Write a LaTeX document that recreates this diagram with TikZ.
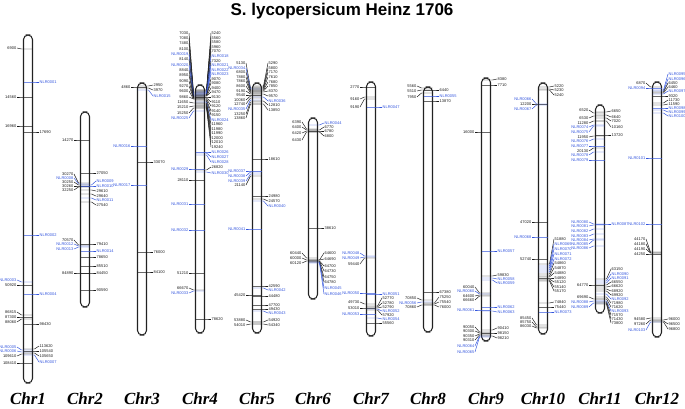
\documentclass[tikz,border=0pt]{standalone}
\usepackage{fontspec}
\setmainfont{Liberation Serif}
\setsansfont{Liberation Sans}
\definecolor{ink}{HTML}{1A1A1A}
\definecolor{nlr}{HTML}{3355DD}
\definecolor{chrline}{HTML}{222222}
\tikzset{
  chrom/.style    ={draw=chrline,line width=0.9pt,fill=white,rounded corners=1.35mm,
                    minimum width=2.7mm,inner sep=0pt},
  lbl/.style      ={font=\sffamily\fontsize{3.4}{4}\selectfont,inner sep=0.4pt},
  lead/.style     ={line width=0.4pt},
  chrname/.style  ={font=\rmfamily\bfseries\itshape\fontsize{14.5}{16}\selectfont},
  headline/.style ={font=\sffamily\bfseries\fontsize{14.5}{16}\selectfont},
}
% markers of one chromosome: side/tick y/label y/text/colour
\newcommand{\markers}[3]{%
  \foreach \s/\t/\l/\txt/\col [count=\k] in {#3}{
    \ifnum\s<0 \def\anc{east}\else\def\anc{west}\fi
    \node[lbl,text=\col,anchor=\anc] (#1-\k) at ({#2+\s*11},\l) {\txt};
    \coordinate (#1-t\k) at ({#2-\s*4.5},\t);
    \draw[lead,draw=\col] (#1-t\k) -- ({#2+\s*6.5},\t) -- (#1-\k.\anc);
  }}

\begin{document}
\begin{tikzpicture}[x=0.3mm,y=-0.3mm]
\useasboundingbox (0,0) rectangle (685,409);
\node[headline] (title) at (342,11) {S. lycopersicum Heinz 1706};

% chromosomes
\foreach \n/\x/\ya/\yb in {1/28/35/383, 2/85/112/307, 3/142/83/335, 4/200/85/333,
   5/257/83/333, 6/313/118/299, 7/371/82/336, 8/428/87/332,
   9/486/78/341, 10/543/83/334, 11/600/105/313, 12/657/82/337}
{
  \node[chrom,minimum height={(\yb-\ya)*0.3mm}] (c\n) at (\x,{(\ya+\yb)/2}) {};
  \node[chrname] (n\n) at (\x,399) {Chr\n};
}

\markers{c1}{28}{-1/49/48/6900/ink, -1/97/97/14560/ink, -1/126/126/16960/ink,
  1/82/82/NLR0001/nlr, 1/132/132/17690/ink, 1/235/235/NLR0002/nlr,
  -1/282/280/NLR0003/nlr, -1/285/285/50920/ink, 1/294/294/NLR0004/nlr,
  -1/315/312/86815/ink, -1/317/317/87300/ink, -1/319/322/88060/ink, 1/324/324/98430/ink,
  -1/350/347/NLR0005/nlr, -1/352/351/NLR0006/nlr, -1/354/356/109610/ink, -1/363/363/108410/ink,
  1/349/346/113620/ink, 1/351/351/105540/ink, 1/353/356/105650/ink, 1/355/362/NLR0007/nlr}

\markers{c2}{85}{-1/140/140/14270/ink,
  -1/183/174/30270/ink, -1/184/178/NLR0008/nlr, -1/185/182/30250/ink, -1/186/186/30260/ink,
  -1/187/190/32250/ink, 1/173/173/27050/ink, 1/185/181/NLR0009/nlr, 1/186/186/NLR0010/nlr,
  1/190/191/29610/ink, 1/194/196/29640/ink, 1/198/200/NLR0011/nlr, 1/202/205/27540/ink,
  -1/245/240/70570/ink, -1/246/244/NLR0012/nlr, -1/247/249/NLR0013/nlr,
  1/244/244/79410/ink, 1/251/251/NLR0014/nlr, 1/257/257/78650/ink, 1/266/266/85510/ink,
  1/273/273/84450/ink, -1/273/273/84890/ink, 1/290/290/90590/ink}

\markers{c3}{142}{-1/87/87/4860/ink, 1/86/85/2950/ink, 1/88/90/3970/ink, 1/90/96/NLR0015/nlr,
  -1/146/146/NLR0016/nlr, 1/162/162/33070/ink, -1/185/185/NLR0017/nlr,
  1/252/252/76000/ink, 1/272/272/84100/ink}

% chr4: the dense fan at the top
\markers{c4}{200}{-1/92/33/7030/ink, -1/93/38/7080/ink, -1/94/43/7480/ink, -1/95/49/8100/ink,
  -1/95/54/NLR0019/nlr, -1/96/59/8140/ink, -1/96/65/NLR0020/nlr, -1/97/70/8840/ink,
  -1/97/75/8950/ink, -1/98/81/9090/ink, -1/98/86/9270/ink, -1/99/91/9600/ink,
  -1/99/97/9860/ink, -1/103/102/11650/ink, -1/106/107/15210/ink, -1/108/113/15250/ink,
  -1/111/118/NLR0025/nlr,
  1/90/33/5240/ink, 1/90/38/5560/ink, 1/91/42/5580/ink, 1/91/47/5960/ink, 1/92/51/7070/ink,
  1/92/56/NLR0018/nlr, 1/93/61/7320/ink, 1/93/65/NLR0021/nlr, 1/94/70/NLR0022/nlr,
  1/94/74/NLR0023/nlr, 1/95/79/9070/ink, 1/95/83/9080/ink, 1/96/88/9400/ink, 1/96/92/9470/ink,
  1/97/97/9130/ink, 1/98/102/9110/ink, 1/99/106/9120/ink, 1/100/111/9140/ink,
  1/101/115/9150/ink, 1/102/120/NLR0024/nlr, 1/103/124/11960/ink, 1/104/129/11980/ink,
  1/105/133/11990/ink, 1/106/138/12000/ink, 1/107/142/12010/ink, 1/108/147/19240/ink,
  1/152/152/NLR0026/nlr, 1/153/157/NLR0027/nlr, 1/155/162/NLR0028/nlr,
  -1/169/169/NLR0029/nlr, 1/170/167/26820/ink, 1/172/173/NLR0030/nlr, -1/180/180/28110/ink,
  -1/204/204/NLR0031/nlr, -1/230/230/NLR0032/nlr, -1/273/273/51210/ink,
  -1/290/288/66670/ink, -1/291/293/NLR0033/nlr, 1/319/319/78620/ink}

\markers{c5}{257}{-1/88/63/5130/ink, -1/89/68/NLR0034/nlr, -1/90/72/6800/ink,
  -1/91/77/7880/ink, -1/92/81/7860/ink, -1/93/86/8600/ink, -1/94/91/9190/ink,
  -1/95/95/9540/ink, -1/96/100/10060/ink, -1/98/104/12740/ink, -1/100/109/NLR0035/nlr,
  -1/102/114/13250/ink, -1/104/118/13860/ink,
  1/86/63/5290/ink, 1/87/68/5800/ink, 1/88/72/7170/ink, 1/89/77/7610/ink, 1/90/82/7680/ink,
  1/91/86/7850/ink, 1/92/91/8370/ink, 1/94/96/9570/ink, 1/97/101/NLR0036/nlr,
  1/101/105/12810/ink, 1/104/110/13850/ink,
  1/159/159/18610/ink, -1/171/171/NLR0037/nlr, -1/172/176/NLR0038/nlr,
  -1/174/181/NLR0039/nlr, -1/176/185/21140/ink, 1/196/196/24980/ink, 1/199/201/24570/ink,
  1/201/206/NLR0040/nlr, -1/229/229/NLR0041/nlr, 1/286/286/42590/ink, 1/288/290/NLR0042/nlr,
  -1/295/295/45420/ink, 1/296/296/44480/ink, 1/305/305/47700/ink, 1/309/309/49430/ink,
  1/311/313/NLR0043/nlr, -1/322/320/53880/ink, -1/324/325/54010/ink,
  1/322/320/54920/ink, 1/324/325/54340/ink}

\markers{c6}{313}{1/125/123/NLR0044/nlr, 1/130/127/6770/ink, 1/131/131/6780/ink,
  1/132/136/6800/ink, -1/129/122/6390/ink, -1/130/127/6400/ink, -1/131/133/6420/ink,
  -1/132/140/6430/ink, 1/228/228/38610/ink,
  -1/258/253/60440/ink, -1/260/258/60000/ink, -1/261/263/60120/ink,
  1/260/253/64600/ink, 1/260/259/64690/ink, 1/261/266/64700/ink, 1/261/271/64730/ink,
  1/262/277/64750/ink, 1/262/282/64780/ink, 1/262/288/NLR0045/nlr, 1/263/294/NLR0046/nlr}

\markers{c7}{371}{-1/87/87/2770/ink, -1/97/99/9160/ink, -1/99/107/9190/ink,
  1/107/107/NLR0047/nlr, -1/256/253/NLR0048/nlr, -1/257/258/NLR0049/nlr,
  -1/258/264/59440/ink, -1/293/293/NLR0050/nlr, 1/294/294/NLR0051/nlr,
  -1/304/302/49730/ink, -1/308/308/53010/ink, 1/306/298/52770/ink, 1/307/303/52780/ink,
  1/308/307/52790/ink, 1/309/311/NLR0052/nlr, 1/310/315/57920/ink,
  -1/314/314/NLR0053/nlr, 1/318/319/NLR0054/nlr, 1/323/323/55560/ink}

\markers{c8}{428}{-1/88/86/5560/ink, -1/90/91/5510/ink, -1/93/97/7950/ink,
  1/90/90/6440/ink, 1/96/96/NLR0055/nlr, 1/101/101/13870/ink,
  -1/300/298/70850/ink, -1/302/303/NLR0056/nlr, -1/305/307/70860/ink,
  1/292/292/67380/ink, 1/303/297/75250/ink, 1/304/302/75540/ink, 1/305/307/76000/ink}

\markers{c9}{486}{1/80/79/8380/ink, 1/85/85/7710/ink, -1/132/132/16000/ink,
  1/251/251/NLR0057/nlr, 1/276/275/59830/ink, 1/278/279/NLR0058/nlr, 1/280/283/NLR0059/nlr,
  -1/293/287/60040/ink, -1/294/291/NLR0060/nlr, -1/295/296/64600/ink, -1/296/300/66660/ink,
  -1/310/310/NLR0061/nlr, 1/307/307/NLR0062/nlr, 1/311/312/NLR0063/nlr,
  -1/332/327/90050/ink, -1/333/331/90300/ink, -1/334/336/90350/ink, -1/335/340/90310/ink,
  -1/336/346/NLR0064/nlr, -1/337/352/NLR0065/nlr,
  1/330/328/90410/ink, 1/333/333/98150/ink, 1/336/338/98210/ink}

\markers{c10}{543}{1/87/86/5220/ink, 1/89/90/5230/ink, 1/90/95/5240/ink,
  -1/104/99/NLR0066/nlr, -1/104/104/12200/ink, -1/105/109/NLR0067/nlr,
  -1/222/222/47020/ink, -1/237/237/NLR0068/nlr, -1/259/259/52740/ink,
  1/264/239/51880/ink, 1/266/244/NLR0069/nlr, 1/268/249/NLR0070/nlr, 1/270/254/NLR0071/nlr,
  1/272/259/NLR0072/nlr, 1/274/263/54860/ink, 1/276/268/54870/ink, 1/277/273/54880/ink,
  1/278/278/54890/ink, 1/279/282/55120/ink, 1/280/287/55140/ink, 1/281/291/55170/ink,
  1/303/302/74840/ink, 1/307/307/75440/ink, 1/312/312/NLR0073/nlr,
  -1/325/318/85450/ink, -1/327/322/85750/ink, -1/328/326/86030/ink}

\markers{c11}{600}{-1/113/110/6520/ink, -1/116/118/6530/ink, -1/121/123/11280/ink,
  -1/125/127/NLR0074/nlr, -1/126/132/NLR0075/nlr, -1/136/137/11950/ink,
  -1/139/141/NLR0076/nlr, -1/146/146/NLR0077/nlr, -1/148/151/20130/ink,
  -1/152/155/NLR0078/nlr, -1/160/160/NLR0079/nlr,
  1/112/111/6650/ink, 1/115/117/6640/ink, 1/118/121/7020/ink, 1/121/127/10160/ink,
  1/135/135/13720/ink,
  -1/224/222/NLR0080/nlr, -1/225/226/NLR0081/nlr, -1/229/231/NLR0082/nlr,
  -1/234/236/NLR0083/nlr, -1/239/240/NLR0084/nlr, -1/240/244/NLR0085/nlr,
  -1/246/248/NLR0086/nlr, 1/224/224/NLR0087/nlr,
  -1/285/285/64770/ink, -1/299/297/69690/ink, -1/301/302/NLR0088/nlr, -1/303/307/NLR0089/nlr,
  1/279/269/63150/ink, 1/281/274/NLR0090/nlr, 1/283/278/NLR0091/nlr, 1/285/282/66550/ink,
  1/287/286/66620/ink, 1/289/291/68920/ink, 1/291/295/69920/ink, 1/294/299/NLR0092/nlr,
  1/297/303/71980/ink, 1/299/307/71620/ink, 1/301/311/NLR0093/nlr, 1/302/315/71570/ink,
  1/303/319/71430/ink, 1/304/323/73800/ink}

\markers{c12}{657}{-1/87/83/6870/ink, -1/88/88/NLR0094/nlr,
  1/90/74/NLR0095/nlr, 1/91/79/NLR0096/nlr, 1/92/83/6450/ink, 1/93/87/6460/ink,
  1/94/91/NLR0097/nlr, 1/96/96/9320/ink, 1/103/100/11730/ink, 1/105/104/11590/ink,
  1/108/108/NLR0098/nlr, 1/110/112/NLR0099/nlr, 1/113/116/NLR0100/nlr,
  -1/158/158/NLR0101/nlr, -1/224/224/NLR0102/nlr,
  -1/252/239/44170/ink, -1/253/244/44180/ink, -1/253/249/44190/ink, -1/254/254/44250/ink,
  -1/318/319/94580/ink, -1/320/324/97260/ink, -1/322/330/NLR0103/nlr,
  1/320/319/96000/ink, 1/321/324/96500/ink, 1/322/329/96800/ink}
\end{tikzpicture}
\end{document}
